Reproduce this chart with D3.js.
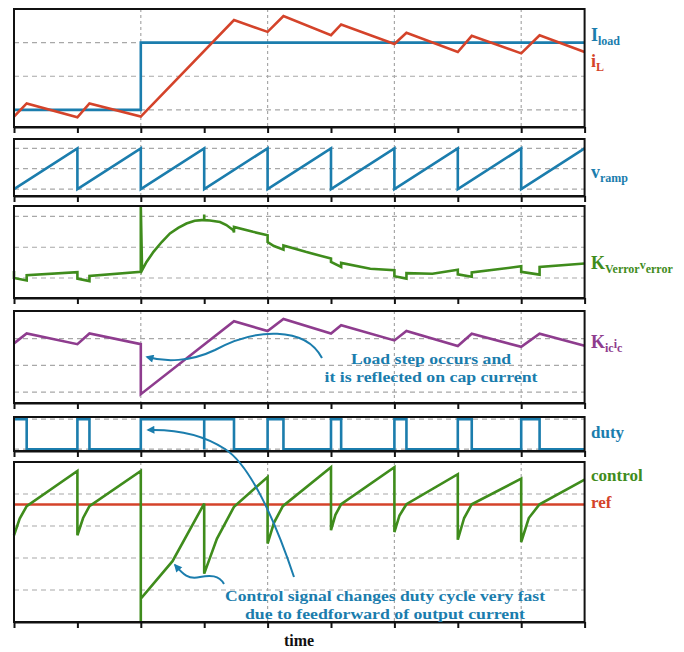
<!DOCTYPE html>
<html><head><meta charset="utf-8">
<script src="https://cdn.jsdelivr.net/npm/d3@7"></script>
<style>
body{margin:0;background:#fff}
svg{display:block;background:#fff}
text{font-family:"Liberation Serif","Times New Roman",serif;font-weight:bold}
</style>
</head><body><svg id="c" width="684" height="652"></svg>
<script>
// ---------- data ----------
const tickValues = [0,1,2,3,4,5,6,7,8,9];
const vGridValues = [2,4,6,8];

const iLoadT = [0, 2, 2, 9];
const iLoadV = [1, 1, 3, 3];

const iLT = [0, 0.2, 1.0, 1.19, 2.0, 3.47, 4.0, 4.25, 5.0, 5.16, 6.0, 6.19, 7.0, 7.22, 8.0, 8.29, 9.0];
const iLV = [0.8, 1.19, 0.78, 1.19, 0.8, 3.67, 3.32, 3.79, 3.22, 3.54, 2.96, 3.29, 2.72, 3.2, 2.68, 3.22, 2.72];

const rampT = [0,1,1,2,2,3,3,4,4,5,5,6,6,7,7,8,8,9];
const rampV = [0,1,0,1,0,1,0,1,0,1,0,1,0,1,0,1,0,1];

const errT = [0,0,0.2,0.2,1.0,1.0,1.19,1.19,2.0,2.0,2.02,2.09,2.2,2.33,2.46,2.59,2.72,2.85,2.96,3.0,3.0,3.0,3.09,3.25,3.35,3.46,3.47,3.47,3.77,4.0,4.0,4.1,4.25,4.25,4.6,5.0,5.0,5.16,5.16,5.62,6.0,6.0,6.19,6.19,6.6,7.0,7.0,7.22,7.22,8.0,8.0,8.29,8.29,9.0];
const errV = [-0.77,-1.0,-1.08,-0.91,-0.81,-1.02,-1.10,-0.93,-0.80,1.32,-0.75,-0.48,-0.15,0.17,0.45,0.63,0.77,0.86,0.88,0.88,1.06,0.88,0.87,0.82,0.72,0.55,0.48,0.66,0.50,0.39,0.17,0.04,-0.08,0.06,-0.15,-0.37,-0.48,-0.64,-0.51,-0.70,-0.75,-0.94,-1.02,-0.84,-0.86,-0.73,-0.88,-0.96,-0.82,-0.62,-0.80,-0.89,-0.64,-0.53];

const icT = [0,0.2,1,1.19,2,2,3.47,4,4.25,5,5.16,6,6.19,7,7.22,8,8.29,9];
const icV = [0.82,1.19,0.79,1.19,0.79,-1.08,1.65,1.28,1.73,1.19,1.5,0.93,1.28,0.72,1.18,0.69,1.18,0.73];

const dutyT = [0,0.2,1,1.19,2,3,3,3.47,4,4.25,5,5.16,6,6.19,7,7.22,8,8.29,9];
const dutyV = [1,0,1,0,1,0,1,0,1,0,1,0,1,0,1,0,1,0,0];

const ctrlT = [0,0.09,0.2,1.0,1.0,1.09,1.19,2.0,2.0,2.0,2.5,3.0,3.0,3.2,3.47,4.0,4.0,4.1,4.24,5.0,5.0,5.07,5.16,6.0,6.0,6.08,6.19,7.0,7.0,7.1,7.22,8.0,8.0,8.12,8.29,9.0];
const ctrlV = [-0.29,0.23,0.62,1.72,-0.29,0.25,0.62,1.72,-3.0,-2.27,-1.1,0.70,-1.49,-0.4,0.6,1.53,-0.55,0.1,0.62,1.84,-0.13,0.35,0.68,1.84,-0.19,0.33,0.68,1.62,-0.43,0.25,0.68,1.48,-0.5,0.25,0.68,1.45];

const refT = [0, 9];
const refV = [0.67, 0.67];

// ---------- styles ----------
const BLUE = "#1b7dad", RED = "#d4432a", GREEN = "#3f8c1c", PURPLE = "#8e3c8e";

const svg = d3.select("#c");
const x = d3.scaleLinear().domain([0, 9]).range([14, 584.6]);

const panels = [
  {top: 9,   bottom: 127, domain: [0.49, 4.0],  grid: [1, 2, 3],
   series: [{t: iLoadT, v: iLoadV, c: BLUE}, {t: iLT, v: iLV, c: RED}]},
  {top: 139, bottom: 196, domain: [-0.17, 1.23], grid: [0, 0.5, 1],
   series: [{t: rampT, v: rampV, c: BLUE}]},
  {top: 206, bottom: 298, domain: [-1.65, 1.34], grid: [-1, 0, 1],
   series: [{t: errT, v: errV, c: GREEN}]},
  {top: 311, bottom: 403, domain: [-1.41, 2.03], grid: [-1, 0, 1],
   series: [{t: icT, v: icV, c: PURPLE}]},
  {top: 417, bottom: 451, domain: [-0.06, 1.07], grid: [0, 1],
   series: [{t: dutyT, v: dutyV, c: BLUE, step: true}]},
  {top: 462, bottom: 622, domain: [-3.0, 2.0], grid: [-2, -1, 0, 1],
   series: [{t: refT, v: refV, c: RED}, {t: ctrlT, v: ctrlV, c: GREEN}]}
];

panels.forEach(p => {
  const y = d3.scaleLinear().domain(p.domain).range([p.bottom, p.top]);
  const g = svg.append("g");
  g.selectAll("line.hg").data(p.grid).join("line")
    .attr("x1", x(0)).attr("x2", x(9))
    .attr("y1", d => y(d)).attr("y2", d => y(d))
    .attr("stroke", "#a8a8a8").attr("stroke-width", 1.2).attr("stroke-dasharray", "5,4");
  g.selectAll("line.vg").data(vGridValues).join("line")
    .attr("x1", d => x(d)).attr("x2", d => x(d))
    .attr("y1", p.top).attr("y2", p.bottom)
    .attr("stroke", "#a8a8a8").attr("stroke-width", 1.2).attr("stroke-dasharray", "3,3");
  p.series.forEach(s => {
    const pts = s.t.map((t, i) => [t, s.v[i]]);
    const line = d3.line().x(d => x(d[0])).y(d => y(d[1]))
      .curve(s.step ? d3.curveStepAfter : d3.curveLinear);
    g.append("path").attr("d", line(pts)).attr("fill", "none")
      .attr("stroke", s.c).attr("stroke-width", 2.6).attr("stroke-linejoin", "miter");
  });
  g.append("rect").attr("x", x(0)).attr("y", p.top)
    .attr("width", x(9) - x(0)).attr("height", p.bottom - p.top)
    .attr("fill", "none").attr("stroke", "#111").attr("stroke-width", 2);
  const ax = g.append("g").attr("transform", `translate(0,${p.bottom})`)
    .call(d3.axisBottom(x).tickValues(tickValues).tickSize(6).tickSizeOuter(0).tickFormat(""));
  ax.select(".domain").attr("stroke", "#111").attr("stroke-width", 2);
  ax.selectAll(".tick line").attr("stroke", "#111").attr("stroke-width", 2);
});

// ---------- right labels ----------
function label(xp, yp, parts, color) {
  const t = svg.append("text").attr("x", xp).attr("y", yp).attr("fill", color);
  parts.forEach(([txt, sub]) => {
    t.append("tspan").text(txt)
      .attr("font-size", sub ? 12 : 18)
      .attr("dy", sub === 1 ? 4 : (sub === -1 ? -4 : 0));
  });
}
label(591, 41, [["I", 0], ["load", 1]], BLUE);
label(591, 67, [["i", 0], ["L", 1]], RED);
label(591, 178, [["v", 0], ["ramp", 1]], BLUE);
label(591, 269, [["K", 0], ["Verror", 1], ["v", -1], ["error", 1]], GREEN);
label(591, 348, [["K", 0], ["ic", 1], ["i", -1], ["c", 1]], PURPLE);
svg.append("text").attr("x", 591).attr("y", 438).attr("font-size", 17).attr("fill", BLUE).text("duty");
svg.append("text").attr("x", 591).attr("y", 481).attr("font-size", 17).attr("fill", GREEN).text("control");
svg.append("text").attr("x", 591).attr("y", 508).attr("font-size", 17).attr("fill", RED).text("ref");
svg.append("text").attr("x", 299).attr("y", 646).attr("font-size", 16).attr("fill", "#111")
  .attr("text-anchor", "middle").text("time");

// ---------- annotations ----------
const defs = svg.append("defs");
defs.append("marker").attr("id", "ah").attr("viewBox", "0 0 10 10")
  .attr("refX", 8).attr("refY", 5).attr("markerWidth", 4.5).attr("markerHeight", 4)
  .attr("orient", "auto").attr("markerUnits", "strokeWidth")
  .append("path").attr("d", "M0,0 L10,5 L0,10 z").attr("fill", BLUE);

const arrows = [
  "M322,358 C305,326 255,328 215,350 C190,362 165,362 147,357",
  "M294,577 C275,520 250,465 225,449 C205,436 180,429 148,430",
  "M224,584 C219,575 210,575 200,577 C188,580 183,574 175,565"
];
arrows.forEach(d => svg.append("path").attr("d", d).attr("fill", "none")
  .attr("stroke", BLUE).attr("stroke-width", 2).attr("marker-end", "url(#ah)"));

const notes = [
  {x: 431, y: 364, t: "Load step occurs and", w: 160},
  {x: 431, y: 382, t: "it is reflected on cap current", w: 213},
  {x: 385, y: 601, t: "Control signal changes duty cycle very fast", w: 320},
  {x: 385, y: 619, t: "due to feedforward of output current", w: 280}
];
notes.forEach(n => svg.append("text").attr("x", n.x).attr("y", n.y)
  .attr("text-anchor", "middle").attr("font-size", 15.5).attr("fill", BLUE)
  .attr("textLength", n.w).attr("lengthAdjust", "spacingAndGlyphs").text(n.t));
</script>
</body></html>
